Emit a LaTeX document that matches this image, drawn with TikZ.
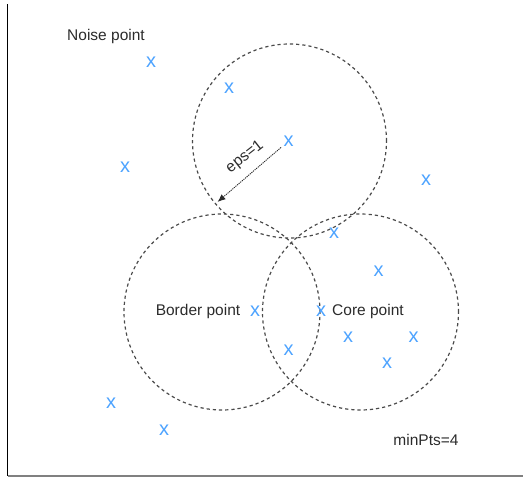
\documentclass[tikz,border=0pt]{standalone}
\usepackage{fontspec}
\setmainfont{Liberation Sans}
\usepackage{tikz}
\usetikzlibrary{arrows.meta}
\definecolor{PtBlue}{HTML}{4DA3FF}
\definecolor{RingGray}{HTML}{4A4A4A}
\definecolor{LabelInk}{HTML}{2B2B2B}

\begin{document}
\begin{tikzpicture}[x=1pt,y=-1pt,
  pt/.style={text=PtBlue,inner sep=0pt,font=\fontsize{20}{20}\selectfont},
  lab/.style={text=LabelInk,inner sep=0pt,font=\fontsize{15.5}{17}\selectfont},
  ring/.style={draw=RingGray,line width=1.2pt,dash pattern=on 3.2pt off 3pt},
  epsarr/.style={-{Latex[length=8pt,width=6.5pt]},draw=LabelInk,line width=0.9pt,
                 dash pattern=on 1.2pt off 0.9pt,shorten <=3pt}]
  \useasboundingbox (0,0) rectangle (523,477);
  % frame edges of the screenshot
  \draw[black,line width=1.4pt] (7.5,4) -- (7.5,476);
  \draw[gray,line width=1.6pt] (7.5,476) -- (523,476);
  % eps neighbourhoods
  \draw[ring] (289.5,141) circle (97pt);
  \draw[ring] (222,312) circle (98pt);
  \draw[ring] (360.5,312) circle (98pt);
  % data points
  \node[pt] (p1) at (151,62) {x};
  \node[pt] (p2) at (229,88) {x};
  \node[pt] (p3) at (288.5,141) {x};
  \node[pt] (p4) at (125,167) {x};
  \node[pt] (p5) at (426,180) {x};
  \node[pt] (p6) at (334,233) {x};
  \node[pt] (p7) at (378.5,271) {x};
  \node[pt] (p8) at (255,311) {x};
  \node[pt] (p9) at (321,311) {x};
  \node[pt] (p10) at (288.5,350) {x};
  \node[pt] (p11) at (348,337) {x};
  \node[pt] (p12) at (413.5,337) {x};
  \node[pt] (p13) at (387,363) {x};
  \node[pt] (p14) at (111,403) {x};
  \node[pt] (p15) at (164,430) {x};
  % labels
  \node[lab] (noise) at (106,36) {Noise point};
  \node[lab] (border) at (198,311) {Border point};
  \node[lab] (core) at (368,311) {Core point};
  \node[lab] (minpts) at (426,440) {minPts=4};
  % radius arrow
  \coordinate (epsend) at (217.5,202);
  \draw[epsarr] (p3) -- (epsend);
  \node[lab,rotate=38] (eps) at (245,157) {eps=1};
\end{tikzpicture}
\end{document}
